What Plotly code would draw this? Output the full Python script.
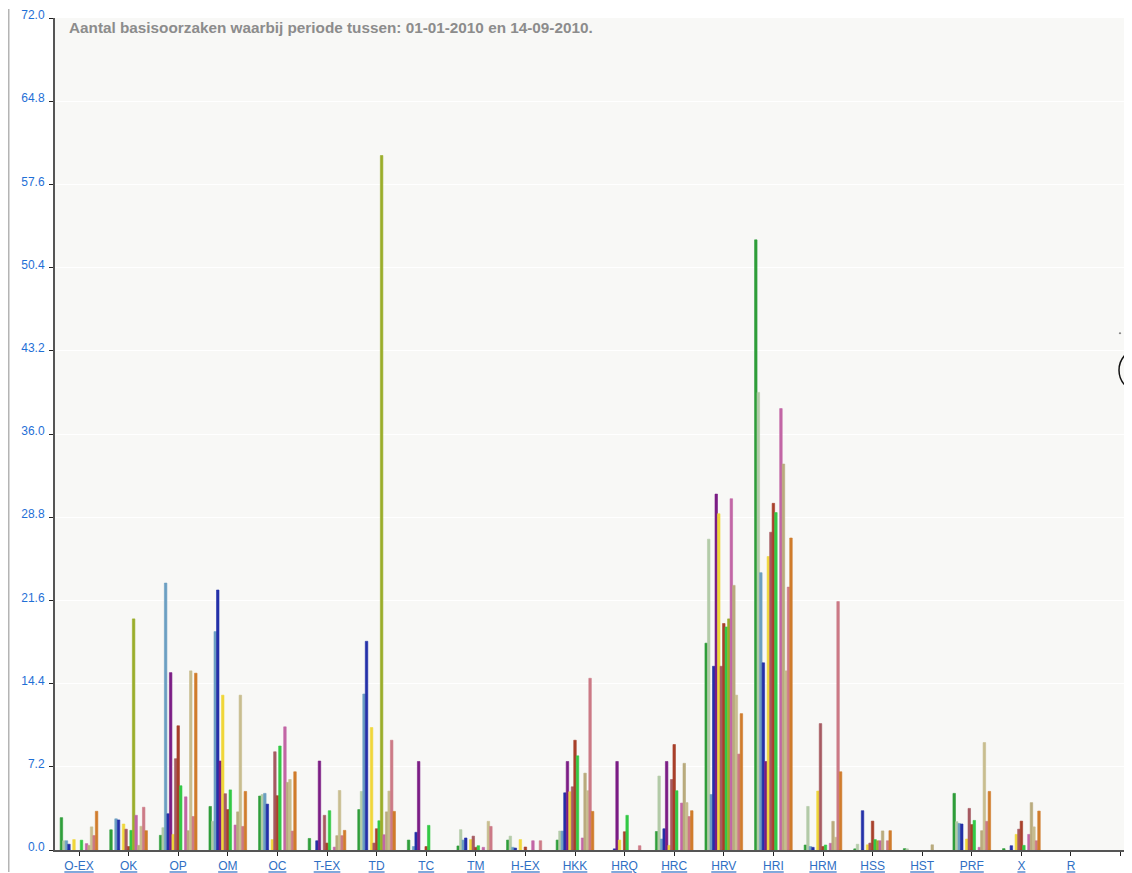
import plotly.graph_objects as go

categories = ["O-EX", "OK", "OP", "OM", "OC", "T-EX", "TD", "TC", "TM", "H-EX",
              "HKK", "HRQ", "HRC", "HRV", "HRI", "HRM", "HSS", "HST", "PRF", "X", "R", ""]

series_names = ["Reeks 1", "Reeks 2", "Reeks 3", "Reeks 4", "Reeks 5", "Reeks 6", "Reeks 7",
                "Reeks 8", "Reeks 9", "Reeks 10", "Reeks 11", "Reeks 12", "Reeks 13",
                "Reeks 14", "Reeks 15"]

series_colors = ["#2f9e3a", "#b3cba8", "#6b9fc2", "#2430a8", "#7b1d85", "#f0d63a", "#a65a62",
                 "#a8402a", "#33c945", "#9aad2a", "#c266a6", "#b9ab7d", "#c8bd8f", "#cc7a86",
                 "#d07c2c"]

# values per category (one value per series)
v_o_ex = [2.8, 0.8, 0.8, 0.5, 0, 0.9, 0, 0, 0.85, 0, 0.55, 0.4, 2.0, 1.25, 3.35]
v_ok   = [1.75, 0, 2.7, 2.6, 0, 2.25, 1.8, 0.3, 1.7, 20.0, 3.0, 0.4, 2.05, 3.7, 1.67]
v_op   = [1.27, 1.93, 23.1, 3.14, 15.35, 1.35, 7.9, 10.75, 5.56, 0, 4.6, 1.67, 15.5, 2.9, 15.3]
v_om   = [3.77, 2.48, 18.9, 22.5, 7.7, 13.4, 4.87, 3.5, 5.2, 0, 2.16, 3.3, 13.4, 2.04, 5.07]
v_oc   = [4.67, 4.8, 4.9, 3.97, 0, 0.9, 8.5, 4.7, 9.0, 0, 10.66, 5.85, 6.1, 1.64, 6.77]
v_t_ex = [1.0, 0, 0, 0.8, 7.7, 0, 3.0, 0.6, 3.4, 0, 0.25, 1.24, 5.15, 1.24, 1.7]
v_td   = [3.5, 5.07, 13.5, 18.06, 0, 10.6, 0.6, 1.84, 2.53, 60.1, 1.32, 3.3, 5.1, 9.5, 3.34]
v_tc   = [0.86, 0, 0.3, 1.53, 7.66, 0, 0, 0.3, 2.13, 0, 0, 0, 0, 0, 0]
v_tm   = [0.35, 1.76, 0.86, 1.04, 0, 0.9, 1.2, 0.23, 0.37, 0, 0.23, 0, 2.48, 2.04, 0]
v_h_ex = [0.86, 1.2, 0.23, 0.17, 0, 0.9, 0, 0.26, 0, 0, 0.8, 0, 0, 0.8, 0]
v_hkk  = [0.86, 1.64, 1.64, 4.95, 7.66, 5.04, 5.47, 9.5, 8.15, 0, 1.04, 6.65, 5.13, 14.86, 3.34]
v_hrq  = [0, 0, 0, 0.1, 7.66, 0.86, 0, 1.58, 3.0, 0, 0, 0, 0, 0.37, 0]
v_hrc  = [1.6, 6.4, 0.95, 1.84, 7.66, 0.4, 6.1, 9.13, 5.13, 0, 4.06, 7.5, 4.1, 2.9, 3.4]
v_hrv  = [17.9, 26.9, 4.8, 15.9, 30.8, 29.1, 15.9, 19.6, 19.3, 20.0, 30.4, 22.9, 13.4, 8.3, 11.8]
v_hri  = [52.8, 39.6, 24.0, 16.2, 7.66, 25.4, 27.5, 30.0, 29.2, 0, 38.2, 33.4, 15.5, 22.75, 27.0]
v_hrm  = [0.43, 3.77, 0.3, 0.23, 0, 5.1, 10.94, 0.3, 0.43, 0, 0.58, 2.48, 1.1, 21.5, 6.77]
v_hss  = [0.1, 0.5, 0, 3.4, 0, 0.45, 0.6, 2.5, 0.9, 0.8, 0.8, 1.65, 0, 0.8, 1.67]
v_hst  = [0.12, 0.1, 0, 0, 0, 0, 0, 0, 0, 0, 0, 0.45, 0, 0, 0]
v_prf  = [4.9, 2.45, 2.3, 2.25, 0, 0.95, 3.6, 2.2, 2.56, 0, 0.23, 1.67, 9.3, 2.48, 5.07]
v_x    = [0.12, 0, 0, 0.37, 0, 1.35, 1.8, 2.5, 0.4, 0, 1.35, 4.1, 2.0, 0.8, 3.37]
v_r    = [0, 0, 0, 0, 0, 0, 0, 0, 0, 0, 0, 0, 0, 0, 0]
v_blank = [0, 0, 0, 0, 0, 0, 0, 0, 0, 0, 0, 0, 0, 0, 0]

category_values = [v_o_ex, v_ok, v_op, v_om, v_oc, v_t_ex, v_td, v_tc, v_tm, v_h_ex,
                   v_hkk, v_hrq, v_hrc, v_hrv, v_hri, v_hrm, v_hss, v_hst, v_prf, v_x,
                   v_r, v_blank]

y_ticks = [0.0, 7.2, 14.4, 21.6, 28.8, 36.0, 43.2, 50.4, 57.6, 64.8, 72.0]

title_text = "Aantal basisoorzaken waarbij periode tussen: 01-01-2010 en 14-09-2010."

# page offset of the figure (default body margin)
OFF = 8
W, H = 1124, 865
L, R, T, B = 47, 0, 9, 22
pw, ph = W - L - R, H - T - B


def px_x(p):
    return (p - OFF - L) / pw


def px_y(p):
    return (H - B - (p - OFF)) / ph


xpos = list(range(len(categories)))

fig = go.Figure()
for si, name in enumerate(series_names):
    fig.add_trace(go.Bar(
        x=xpos,
        y=[row[si] if row[si] > 0 else None for row in category_values],
        name=name,
        marker=dict(color=series_colors[si],
                    line=dict(width=0.6, color=series_colors[si])),
        hoverinfo="y+name",
    ))

fig.update_layout(
    width=W, height=H,
    margin=dict(l=L, r=R, t=T, b=B, pad=0),
    barmode="group",
    bargap=0.24,
    bargroupgap=0.0,
    showlegend=False,
    paper_bgcolor="#ffffff",
    plot_bgcolor="#f8f8f6",
    font=dict(family="Liberation Sans, Arial, sans-serif"),
)

fig.update_xaxes(
    range=[-0.484, 21.23],
    tickmode="array",
    tickvals=xpos,
    ticktext=["<u>%s</u>" % c if c else "" for c in categories],
    tickfont=dict(size=12, color="#2f6fc4"),
    ticks="outside", ticklen=4, tickcolor="#222", tickwidth=1,
    showline=True, linecolor="#555555", linewidth=2,
    showgrid=False, zeroline=False, fixedrange=True,
)

fig.update_yaxes(
    range=[0, 72],
    tickmode="array",
    tickvals=y_ticks,
    ticktext=["%.1f" % v for v in y_ticks],
    tickfont=dict(size=12, color="#1f6fd6"),
    ticks="outside", ticklen=4, tickcolor="#222", tickwidth=1,
    ticklabelshift=-3,
    ticklabelstandoff=2,
    ticklabeloverflow="allow",
    showline=True, linecolor="#555555", linewidth=2,
    showgrid=True, gridcolor="#ffffff", gridwidth=1,
    zeroline=False, fixedrange=True,
)

fig.add_annotation(
    xref="paper", yref="paper",
    x=px_x(67), y=px_y(27),
    xanchor="left", yanchor="middle",
    text="<b>%s</b>" % title_text,
    showarrow=False,
    font=dict(size=15.3, color="#8c8c8c", family="Liberation Sans, Arial, sans-serif"),
)

# left frame line of the surrounding page
fig.add_shape(type="line", xref="paper", yref="paper",
              x0=px_x(OFF + 0.75), x1=px_x(OFF + 0.75), y0=px_y(OFF), y1=px_y(OFF + H),
              line=dict(color="#b4b4b4", width=1.5))
# partial circle and dot at the right edge
fig.add_shape(type="circle", xref="paper", yref="paper",
              x0=px_x(1119), x1=px_x(1163), y0=px_y(392), y1=px_y(348),
              line=dict(color="#111111", width=1.5))
fig.add_shape(type="circle", xref="paper", yref="paper",
              x0=px_x(1119.3), x1=px_x(1120.7), y0=px_y(333.7), y1=px_y(332.3),
              line=dict(color="#666666", width=0.5), fillcolor="#666666")

fig.write_html("out.html")
